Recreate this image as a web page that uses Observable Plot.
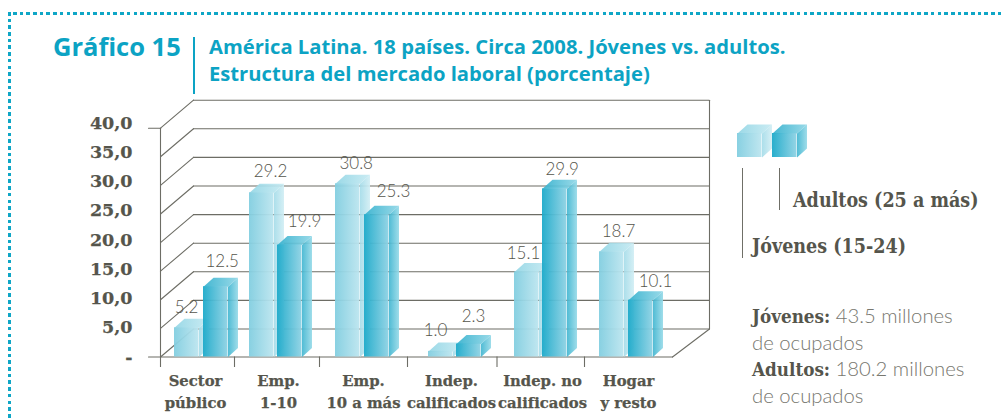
<!DOCTYPE html>
<html lang="es"><head><meta charset="utf-8">
<script src="https://cdn.jsdelivr.net/npm/d3@7"></script>
<script src="https://cdn.jsdelivr.net/npm/@observablehq/plot@0.6"></script>
<style>
html,body{margin:0;padding:0;background:#fff;width:1002px;height:419px;overflow:hidden}
#wrap{position:relative;width:1002px;height:419px}
#wrap svg{position:absolute;left:0;top:0}
.t{position:absolute;white-space:nowrap;line-height:1}
.title{font-family:"Open Sans";font-weight:700;color:#0ca3c4}
.ser{font-family:"DejaVu Serif";font-weight:700;color:#55554c;font-stretch:condensed}
.note{font-family:"Lato";color:#77776f;font-size:20.3px;font-weight:300}
.note b{font-family:"DejaVu Serif";font-stretch:condensed;font-weight:700;color:#55554c;font-size:18.7px}
.rule{position:absolute;background:#6f6f67;width:1.2px}
#dotTop{position:absolute;left:13px;right:0;top:12px;height:3px;background:repeating-linear-gradient(90deg,#0fa6c6 0 3.6px,transparent 3.6px 6.7px)}
#dotLeft{position:absolute;left:8px;width:3px;top:12px;bottom:0;background:repeating-linear-gradient(180deg,#0fa6c6 0 3.6px,transparent 3.6px 6.7px)}
</style></head><body><div id="wrap"></div>
<script>
// ---- data ----
const categories = ["Sector\npúblico","Emp.\n1-10","Emp.\n10 a más","Indep.\ncalificados","Indep. no\ncalificados","Hogar\ny resto"];
const jovenes = [5.2,29.2,30.8,1.0,15.1,18.7];
const adultos = [12.5,19.9,25.3,2.3,29.9,10.1];
const yTicks = [0,5,10,15,20,25,30,35,40];
const yTickLabels = ["-","5,0","10,0","15,0","20,0","25,0","30,0","35,0","40,0"];

// ---- layout (not data) ----
const unit = 5.625, y0 = 356.5;                 // px per percentage point of the bars
const toY = px => (y0 - px) / unit;
const gridK = 1.017, tickK = 1.04;              // the back wall's scale is slightly larger than the bars'
const wallDx = 33, wallDy = 28 / unit;
const depthDx = 10, depthDy = 9 / unit, barW = 24.5;
const frontL = 160, frontR = 672, backR = 709;
const lightX = [174,249,335,428,514,599], darkX = [203,277,364,456,542,628];
const catLabelX = [195,278,363,451,542,628];
const xTicks = [160,234,319,407,496.5,584];
const lightLbl = [[186,306.7],[270,170.7],[355.7,163],[435,330],[523,253],[618,231]];
const darkLbl = [[221.7,261],[304,221],[393,191],[473,316],[561.7,168.7],[655,281]];

const barsOf = (xs, vals) => xs.map((x,i)=>({x, base:0, v:vals[i]}));
const light = barsOf(lightX, jovenes), dark = barsOf(darkX, adultos);
const swatchLight = [{x:737,base:toY(157),v:24/unit}], swatchDark = [{x:772,base:toY(157),v:24/unit}];

const sidePoly = b => [[b.x+barW,b.base+b.v],[b.x+barW+depthDx,b.base+b.v+depthDy],[b.x+barW+depthDx,b.base+depthDy],[b.x+barW,b.base]];
const topPoly = b => [[b.x,b.base+b.v],[b.x+depthDx,b.base+b.v+depthDy],[b.x+barW+depthDx,b.base+b.v+depthDy],[b.x+barW,b.base+b.v]];
const polys = (bars,f) => bars.flatMap((b,id)=>f(b).map(([x,y])=>({id,x,y})));

const barMarks = (bars,prefix) => [
  Plot.line(polys(bars,sidePoly),{x:"x",y:"y",z:"id",curve:"linear-closed",fill:`url(#${prefix}Side)`,stroke:"none",fillOpacity:.92}),
  Plot.line(polys(bars,topPoly),{x:"x",y:"y",z:"id",curve:"linear-closed",fill:`url(#${prefix}Top)`,stroke:"none",fillOpacity:.92}),
  Plot.rect(bars,{x1:"x",x2:b=>b.x+barW,y1:"base",y2:b=>b.base+b.v,fill:`url(#${prefix}Front)`,fillOpacity:.95})
];

const gradients = () => {
  const defs = d3.create("svg:defs");
  const g = (id,a,b)=>{const l=defs.append("linearGradient").attr("id",id);
    l.append("stop").attr("offset",0).attr("stop-color",a);
    l.append("stop").attr("offset",1).attr("stop-color",b);};
  g("lFront","#82cee0","#bce5ef"); g("lSide","#a5dce9","#d2eef4"); g("lTop","#93d6e5","#c6eaf2");
  g("dFront","#1daaca","#8ed2e4"); g("dSide","#42b6d1","#97dae8"); g("dTop","#35b1ce","#8fd6e6");
  return defs.node();
};

const gridColor = "#6d6d65";
const seg = (x1,v1,x2,v2,opt={}) => Plot.line([[x1,v1],[x2,v2]],{stroke:gridColor,strokeWidth:1.1,...opt});
const serifBold = {fontFamily:"DejaVu Serif",fontWeight:700,fill:"#55554c",stroke:"#55554c",strokeWidth:.25};

const marks = [
  gradients,
  Plot.ruleY(yTicks,{y:d=>d*gridK+wallDy,x1:frontL+wallDx,x2:backR,stroke:gridColor,strokeWidth:1.1}),
  ...yTicks.map(t=>seg(frontL,t*gridK,frontL+wallDx,t*gridK+wallDy)),
  seg(frontL,0,frontL,40*gridK),
  seg(backR,wallDy,backR,40*gridK+wallDy),
  seg(frontR,0,backR,wallDy),
  seg(frontL-12,40*gridK,frontL,40*gridK),
  seg(frontL-12,0,frontR,0),
  Plot.ruleX(xTicks,{x:d=>d,y1:0,y2:toY(367),stroke:gridColor,strokeWidth:1.1}),
  ...barMarks(light,"l"),
  ...barMarks(dark,"d"),
  ...barMarks(swatchLight,"l"),
  ...barMarks(swatchDark,"d"),
  Plot.text(yTicks,{x:132,y:d=>d*tickK,text:(d,i)=>yTickLabels[i],textAnchor:"end",fontSize:17.5,lineAnchor:"middle",...serifBold}),
  Plot.text(jovenes,{x:(d,i)=>lightLbl[i][0],y:(d,i)=>toY(lightLbl[i][1]),text:d=>d.toFixed(1),fontFamily:"Lato",fontWeight:300,fontSize:17,fill:"#55554c",lineAnchor:"middle"}),
  Plot.text(adultos,{x:(d,i)=>darkLbl[i][0],y:(d,i)=>toY(darkLbl[i][1]),text:d=>d.toFixed(1),fontFamily:"Lato",fontWeight:300,fontSize:17,fill:"#55554c",lineAnchor:"middle"}),
  Plot.text(categories,{x:(d,i)=>catLabelX[i],y:toY(389.5),text:d=>d,lineAnchor:"middle",lineHeight:1.45,textAnchor:"middle",fontSize:14.8,...serifBold})
];

const chart = Plot.plot({
  width:1002,height:419,margin:0,
  style:{background:"transparent"},
  x:{domain:[0,1002],range:[0,1002],axis:null},
  y:{domain:[0,40.71],range:[y0,y0-40.71*unit],axis:null},
  marks
});
const wrap = document.getElementById("wrap");
wrap.appendChild(chart);
wrap.insertAdjacentHTML("beforeend",`
<div id="dotTop"></div><div id="dotLeft"></div>
<div class="t title" style="left:53px;top:34px;font-size:25.5px">Gráfico 15</div>
<div class="rule" style="left:193px;top:37px;height:57px;background:#0ca3c4;width:2px"></div>
<div class="t title" style="left:209px;top:36px;font-size:20.2px">América Latina. 18 países. Circa 2008. Jóvenes vs. adultos.</div>
<div class="t title" style="left:209px;top:63px;font-size:20.2px">Estructura del mercado laboral (porcentaje)</div>
<div class="rule" style="left:742px;top:168px;height:90px"></div>
<div class="rule" style="left:779px;top:168px;height:42px"></div>
<div class="t ser" style="left:793px;top:191px;font-size:19.5px">Adultos (25 a más)</div>
<div class="t ser" style="left:752px;top:237px;font-size:19.5px">Jóvenes (15-24)</div>
<div class="t note" style="left:752px;top:305px"><b>Jóvenes:</b> 43.5 millones</div>
<div class="t note" style="left:752px;top:332px">de ocupados</div>
<div class="t note" style="left:752px;top:358px"><b>Adultos:</b> 180.2 millones</div>
<div class="t note" style="left:752px;top:385px">de ocupados</div>`);
</script></body></html>
